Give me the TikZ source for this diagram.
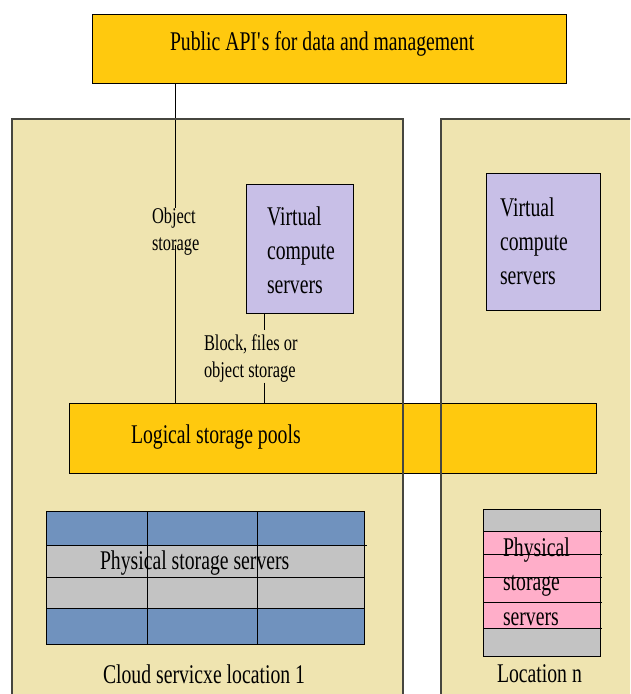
\documentclass[tikz,border=0pt]{standalone}
\usepackage{fontspec}
\setmainfont{Liberation Serif}[FakeStretch=0.73]
\usetikzlibrary{calc}

% straight apostrophe, set as a glyph so the TeX quote mapping leaves it alone
\newcommand{\straightquote}{\XeTeXglyph\XeTeXglyphindex "quotesingle"\relax}

\definecolor{apigold}{HTML}{FFC90E}
\definecolor{sitebeige}{HTML}{EFE4B0}
\definecolor{vmlilac}{HTML}{C8BFE7}
\definecolor{diskblue}{HTML}{7092BE}
\definecolor{diskgray}{HTML}{C3C3C3}
\definecolor{diskpink}{HTML}{FFAEC9}
\definecolor{siteedge}{HTML}{46463F}

\tikzset{
  plainbox/.style={rectangle, draw=black, line width=1pt, inner sep=0pt, outer sep=0pt},
  goldbox/.style={plainbox, fill=apigold},
  vmbox/.style={plainbox, fill=vmlilac},
  bigtext/.style={inner sep=0pt, outer sep=0pt, font=\fontsize{27}{34}\selectfont, align=left},
  smalltext/.style={inner sep=0pt, outer sep=0pt, font=\fontsize{22.5}{27}\selectfont, align=left},
  wire/.style={draw=black, line width=1pt},
  cell/.style={draw=black, line width=1pt},
  siteframe/.style={draw=siteedge, line width=1.4pt},
}

\begin{document}
\begin{tikzpicture}[x=1pt, y=-1pt]
  % canvas
  \fill[white] (0,0) rectangle (630,694);
  \useasboundingbox (0,0) rectangle (630,694);
  \clip (0,0) rectangle (630,694);

  % site backgrounds
  \fill[sitebeige] (12,119) rectangle (403,720);
  \fill[sitebeige] (441,119) rectangle (660,720);

  % public API
  \node[goldbox, minimum width=474pt, minimum height=69pt] (api) at (329,49) {};
  \node[bigtext, anchor=base west] (apitxt) at (170,50) {Public API\straightquote s for data and management};

  % compute servers
  \node[vmbox, minimum width=107pt, minimum height=129pt] (vmA) at (299.5,248.5) {};
  \node[bigtext, anchor=north west] (vmAtxt) at (267,206.5) {Virtual\\compute\\servers};
  \node[vmbox, minimum width=114pt, minimum height=137pt] (vmB) at (543,241.5) {};
  \node[bigtext, anchor=north west] (vmBtxt) at (500,197.5) {Virtual\\compute\\servers};

  % logical storage pools
  \node[goldbox, minimum width=527pt, minimum height=70pt] (pool) at (332.5,438) {};
  \node[bigtext, anchor=base west] (pooltxt) at (131,443) {Logical storage pools};

  % access paths
  \coordinate (objx) at (175,0);
  \coordinate (blkx) at (264,0);
  \node[smalltext, anchor=north west] (objlbl) at (152,208) {Object\\storage};
  \node[smalltext, anchor=north west] (blklbl) at (204,335) {Block, files or\\object storage};
  \draw[wire] (api.south -| objx) -- (objlbl.north -| objx);
  \draw[wire] ($(objlbl.south -| objx)+(0,-10)$) -- (pool.north -| objx);
  \draw[wire] (vmA.south -| blkx) -- ($(blklbl.north -| blkx)+(0,-5)$);
  \draw[wire] (blklbl.south -| blkx) -- (pool.north -| blkx);

  % site frames over the shared pool
  \draw[siteframe] (12,119) rectangle (403,720);
  \draw[siteframe] (441,119) rectangle (660,720);

  % physical storage, location 1
  \fill[diskblue] (46,511) rectangle (364,545);
  \fill[diskgray] (46,545) rectangle (364,608);
  \fill[diskblue] (46,608) rectangle (364,644);
  \draw[cell] (46,511) rectangle (364,644);
  \draw[cell] (46,545) -- (367,545);
  \draw[cell] (46,577) -- (364,577);
  \draw[cell] (46,608) -- (364,608);
  \draw[cell] (147,511) -- (147,644);
  \draw[cell] (257,511) -- (257,644);
  \node[bigtext, anchor=base west] (physA) at (100,569) {Physical storage servers};
  \node[bigtext, anchor=base west] (siteA) at (103,683) {Cloud servicxe location 1};

  % physical storage, location n
  \fill[diskgray] (483,509) rectangle (600,531);
  \fill[diskpink] (483,531) rectangle (600,628);
  \fill[diskgray] (483,628) rectangle (600,656);
  \draw[cell] (483,509) rectangle (600,656);
  \foreach \yy in {531,554,577,602,628} {
    \draw[cell] (483,\yy) -- (602,\yy);
  }
  \node[bigtext, anchor=base west] (physB1) at (503,556) {Physical};
  \node[bigtext, anchor=base west] (physB2) at (503,590) {storage};
  \node[bigtext, anchor=base west] (physB3) at (503,625) {servers};
  \node[bigtext, anchor=base west] (siteB) at (497,682) {Location n};
\end{tikzpicture}
\end{document}
